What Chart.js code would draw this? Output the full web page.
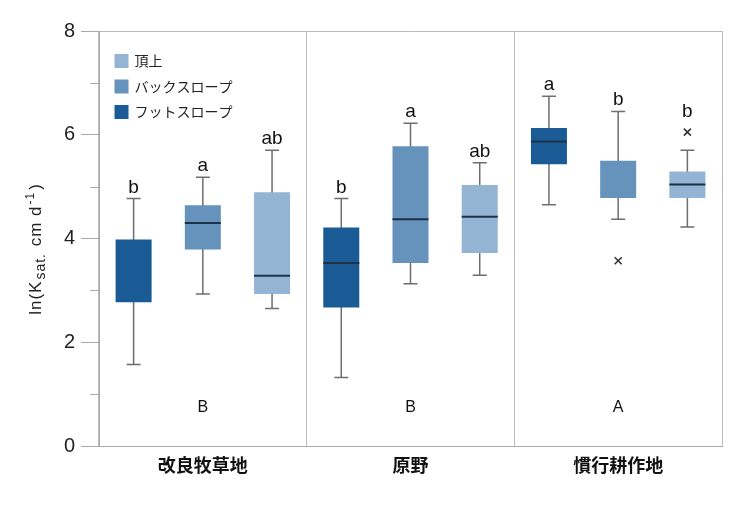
<!DOCTYPE html>
<html lang="ja">
<head>
<meta charset="utf-8">
<title>ln(Ksat) 箱ひげ図</title>
<script src="https://cdn.jsdelivr.net/npm/chart.js@4.4.1/dist/chart.umd.min.js"></script>
<style>
  body { margin: 0; background: #fff; }
  #wrap { width: 750px; height: 515px; }
</style>
</head>
<body>
<div id="wrap"><canvas id="ksatChart" width="750" height="515"></canvas></div>
<script>
// 土地利用
const categories = ['改良牧草地', '原野', '慣行耕作地'];
// 斜面位置（左から右の並び）
const seriesNames = ['フットスロープ', 'バックスロープ', '頂上'];

// 箱ひげの値: 行 = 斜面位置, 列 = 土地利用
const lowWhisker = [
  [1.57, 1.32, 4.65],
  [2.93, 3.13, 4.37],
  [2.65, 3.29, 4.22]
];
const q1 = [
  [2.77, 2.67, 5.43],
  [3.79, 3.53, 4.78],
  [2.93, 3.72, 4.78]
];
// null = 中央値の線が箱の端と重なって見えない
const medians = [
  [null, 3.53, 5.87],
  [4.30, 4.37, null],
  [3.28, 4.42, 5.04]
];
const q3 = [
  [3.98, 4.21, 6.13],
  [4.64, 5.78, 5.50],
  [4.89, 5.03, 5.29]
];
const highWhisker = [
  [4.77, 4.77, 6.74],
  [5.18, 6.22, 6.45],
  [5.70, 5.46, 5.70]
];
const outliers = [
  [[], [], []],
  [[], [], [3.57]],
  [[], [], [6.05]]
];
// 有意差の文字
const pairLetters = [
  ['b', 'b', 'a'],
  ['a', 'a', 'b'],
  ['ab', 'ab', 'b']
];
const groupLetters = ['B', 'B', 'A'];
const yTicks = [0, 2, 4, 6, 8];
const yMinorTicks = [1, 3, 5, 7];

const seriesColors = ['#1a5b96', '#6593bb', '#93b4d3'];
const latinFont = "'Liberation Sans', 'Noto Sans CJK JP', sans-serif";
const jpFont = "'Noto Sans CJK JP', sans-serif";

// ひげ・中央値・外れ値・文字などを描くプラグイン
const boxExtras = {
  id: 'boxExtras',
  beforeDatasetsDraw(chart) {
    const ctx = chart.ctx;
    const y = chart.scales.y;
    ctx.save();
    ctx.strokeStyle = '#6e6e6e';
    ctx.lineWidth = 1.5;
    seriesNames.forEach(function(name, s) {
      chart.getDatasetMeta(s).data.forEach(function(bar, i) {
        const x = bar.x;
        const yMax = y.getPixelForValue(highWhisker[s][i]);
        const yMin = y.getPixelForValue(lowWhisker[s][i]);
        ctx.beginPath();
        ctx.moveTo(x, yMax);
        ctx.lineTo(x, yMin);
        ctx.moveTo(x - 7, yMax);
        ctx.lineTo(x + 7, yMax);
        ctx.moveTo(x - 7, yMin);
        ctx.lineTo(x + 7, yMin);
        ctx.stroke();
      });
    });
    ctx.restore();
  },
  afterDatasetsDraw(chart) {
    const ctx = chart.ctx;
    const y = chart.scales.y;
    const xs = chart.scales.x;
    const area = chart.chartArea;
    ctx.save();

    seriesNames.forEach(function(name, s) {
      chart.getDatasetMeta(s).data.forEach(function(bar, i) {
        const x = bar.x;
        const half = bar.width / 2;
        // 中央値
        if (medians[s][i] !== null) {
          const ym = y.getPixelForValue(medians[s][i]);
          ctx.strokeStyle = '#1d3249';
          ctx.lineWidth = 2;
          ctx.beginPath();
          ctx.moveTo(x - half, ym);
          ctx.lineTo(x + half, ym);
          ctx.stroke();
        }
        // 外れ値
        let topPx = y.getPixelForValue(highWhisker[s][i]);
        outliers[s][i].forEach(function(v) {
          const yo = y.getPixelForValue(v);
          ctx.strokeStyle = '#333';
          ctx.lineWidth = 1.6;
          ctx.beginPath();
          ctx.moveTo(x - 3.5, yo - 3.5);
          ctx.lineTo(x + 3.5, yo + 3.5);
          ctx.moveTo(x + 3.5, yo - 3.5);
          ctx.lineTo(x - 3.5, yo + 3.5);
          ctx.stroke();
          topPx = Math.min(topPx, yo - 9);
        });
        // 有意差の文字
        ctx.fillStyle = '#111';
        ctx.font = '19px ' + latinFont;
        ctx.textAlign = 'center';
        ctx.textBaseline = 'alphabetic';
        ctx.fillText(pairLetters[s][i], x, topPx - 6);
      });
    });

    // 土地利用ごとの文字
    ctx.fillStyle = '#111';
    ctx.font = '16px ' + latinFont;
    ctx.textAlign = 'center';
    ctx.textBaseline = 'middle';
    groupLetters.forEach(function(t, i) {
      ctx.fillText(t, xs.getPixelForValue(i), area.bottom - 38);
    });

    // 上の枠線
    ctx.strokeStyle = '#bbbbbb';
    ctx.lineWidth = 1;
    ctx.beginPath();
    ctx.moveTo(area.left, area.top + 0.5);
    ctx.lineTo(area.right, area.top + 0.5);
    ctx.stroke();

    // 副目盛り
    ctx.strokeStyle = '#aaaaaa';
    yMinorTicks.forEach(function(v) {
      const yy = Math.round(y.getPixelForValue(v)) + 0.5;
      ctx.beginPath();
      ctx.moveTo(area.left - 9, yy);
      ctx.lineTo(area.left, yy);
      ctx.stroke();
    });

    // 凡例（頂上が上）
    const legendOrder = [2, 1, 0];
    ctx.font = '14px ' + jpFont;
    ctx.textAlign = 'left';
    ctx.textBaseline = 'middle';
    legendOrder.forEach(function(s, row) {
      const cy = area.top + 30 + row * 25.5;
      ctx.fillStyle = seriesColors[s];
      ctx.fillRect(area.left + 15.5, cy - 7, 14, 14);
      ctx.fillStyle = '#222';
      ctx.fillText(seriesNames[s], area.left + 35.5, cy);
    });

    // 縦軸タイトル ln(Ksat. cm d-1)
    const parts = [
      { t: 'ln(K', size: 17, dy: 0, gap: 1 },
      { t: 'sat.', size: 14, dy: 4, gap: 1 },
      { t: ' cm d', size: 17, dy: 0, gap: 1 },
      { t: '-1', size: 12, dy: -7, gap: 2 },
      { t: ')', size: 17, dy: 0, gap: 0 }
    ];
    if ('letterSpacing' in ctx) ctx.letterSpacing = '1px';
    let total = 0;
    parts.forEach(function(p) {
      ctx.font = p.size + 'px ' + latinFont;
      p.w = ctx.measureText(p.t).width + p.gap;
      total += p.w;
    });
    ctx.translate(41, 249);
    ctx.rotate(-Math.PI / 2);
    ctx.fillStyle = '#222';
    ctx.textAlign = 'left';
    ctx.textBaseline = 'alphabetic';
    let px = -total / 2;
    parts.forEach(function(p) {
      ctx.font = p.size + 'px ' + latinFont;
      ctx.fillText(p.t, px, p.dy);
      px += p.w;
    });

    ctx.restore();
  }
};

function drawChart() {
  const ctx = document.getElementById('ksatChart').getContext('2d');
  const datasets = seriesNames.map(function(name, s) {
    return {
      label: name,
      data: categories.map(function(c, i) { return [q1[s][i], q3[s][i]]; }),
      backgroundColor: seriesColors[s],
      borderWidth: 0,
      categoryPercentage: 1.0,
      barPercentage: 0.52
    };
  });

  new Chart(ctx, {
    type: 'bar',
    data: { labels: categories, datasets: datasets },
    options: {
      responsive: false,
      animation: false,
      layout: { padding: { top: 31, right: 28, left: 0, bottom: 0 } },
      plugins: {
        legend: { display: false },
        tooltip: { enabled: false }
      },
      scales: {
        x: {
          grid: { offset: true, color: '#bbbbbb', drawTicks: false, tickLength: 0 },
          border: { color: '#aaaaaa' },
          ticks: {
            color: '#111',
            padding: 8,
            font: { family: jpFont, size: 18, weight: 'bold' }
          },
          afterFit: function(scale) { scale.height = 69; }
        },
        y: {
          min: 0,
          max: 8,
          afterBuildTicks: function(scale) {
            scale.ticks = yTicks.map(function(v) { return { value: v }; });
          },
          grid: { drawOnChartArea: false, tickLength: 18, color: '#aaaaaa' },
          border: { color: '#aaaaaa' },
          ticks: {
            color: '#222',
            padding: 6,
            font: { family: latinFont, size: 20 }
          },
          afterFit: function(scale) { scale.width = 99; }
        }
      }
    },
    plugins: [boxExtras]
  });
}

document.addEventListener('DOMContentLoaded', function() {
  drawChart();
});
</script>
</body>
</html>
